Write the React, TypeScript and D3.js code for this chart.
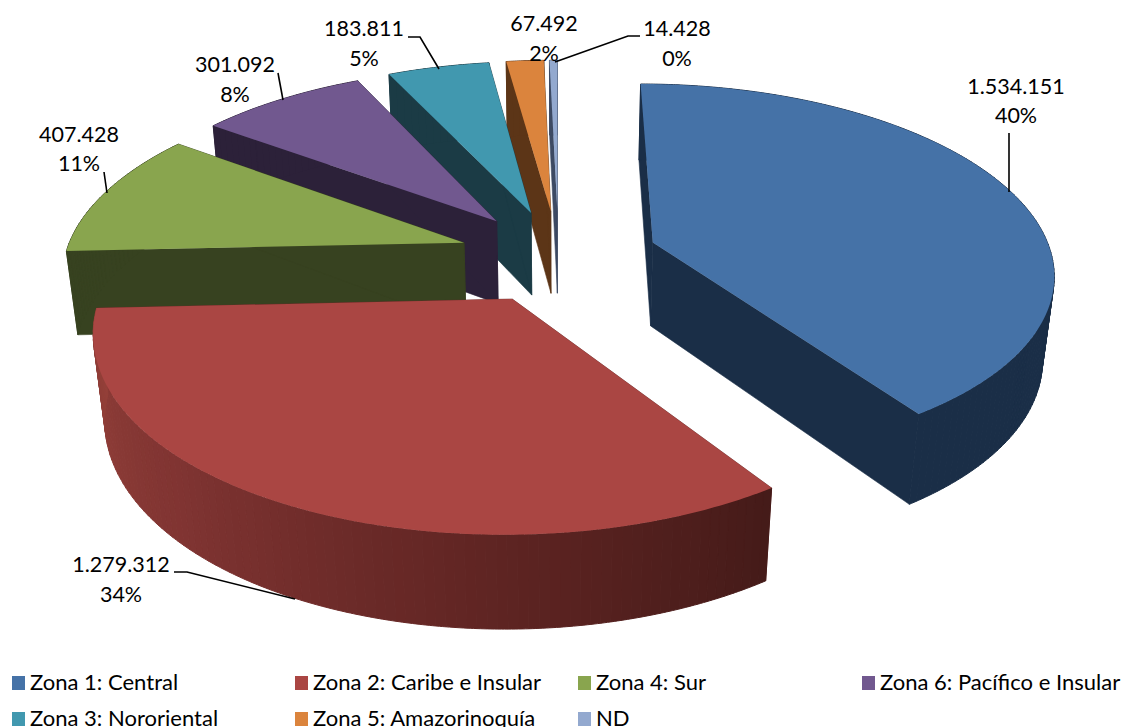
import React from "react";
import * as d3 from "d3";

const zones = ["Zona 1: Central", "Zona 2: Caribe e Insular", "Zona 4: Sur", "Zona 6: Pacífico e Insular", "Zona 3: Nororiental", "Zona 5: Amazorinoquía", "ND"];
const values = [1534151, 1279312, 407428, 301092, 183811, 67492, 14428];
const valueLabels = ["1.534.151", "1.279.312", "407.428", "301.092", "183.811", "67.492", "14.428"];
const percentLabels = ["40%", "34%", "11%", "8%", "5%", "2%", "0%"];
const topColors = ["#4572A7", "#AA4643", "#89A54E", "#71588F", "#4198AF", "#DB843D", "#93A9CF"];
const wallColors = ["#1A2E47", "#6B2A28", "#374220", "#2C2139", "#1B3B45", "#5C3517", "#3D4A63"];
const redWallStops = ["#451B19", "#5E2422", "#803432", "#944039"];
const paintOrder = [6, 5, 4, 3, 2, 0, 1];

// label anchors: [centre x, first baseline, second baseline]
const labelAnchors: [number, number, number][] = [
  [1016, 94, 123], [121, 572, 602], [79, 142, 171], [235, 72, 102], [364, 36, 66], [544, 31, 61], [677, 36, 66],
];
const leaders: [number, number][][] = [
  [[1009, 133], [1009, 192]],
  [[174, 572], [187, 572], [295, 599]],
  [[104, 172], [107, 193]],
  [[278, 73], [283, 100]],
  [[408, 37], [420, 37], [439, 69]],
  [],
  [[640, 36], [628, 36], [555, 62]],
];
const legendCols = [12, 295, 578, 862];
const legendRows = [676, 712];

// camera of the 3-D pie
const cam = { cx: 558.5, cy: 256, f: 399, g: 186, k: 0.15, m: 0.024, n: 86, explode: 0.25 };
const project = (X: number, Y: number, Z: number): [number, number] => {
  const w = 1 + cam.k * Y + cam.m * Z;
  return [cam.cx + (cam.f * X) / w, cam.cy + (-cam.g * Y + cam.n * Z) / w];
};

const arcs = d3.pie<number>().sort(null).startAngle(0).endAngle(2 * Math.PI)(values);
const line = d3.line();

export default function App() {
  const redShade = d3
    .scaleLinear<string>()
    .domain([arcs[1].startAngle, 3.14, 3.93, arcs[1].endAngle])
    .range(redWallStops)
    .interpolate(d3.interpolateRgb);

  const slices = paintOrder.map((i) => {
    const a = arcs[i];
    const mid = (a.startAngle + a.endAngle) / 2;
    const ox = cam.explode * Math.sin(mid);
    const oy = cam.explode * Math.cos(mid);
    const n = Math.max(2, Math.ceil((a.endAngle - a.startAngle) / 0.012));
    const thetas = d3.range(n + 1).map((j) => a.startAngle + ((a.endAngle - a.startAngle) * j) / n);
    const rim = (t: number, z: number) => project(ox + Math.sin(t), oy + Math.cos(t), z);
    const top = [project(ox, oy, 0), ...thetas.map((t) => rim(t, 0))] as [number, number][];
    const wallFor = (t: number) => [project(ox, oy, 0), rim(t, 0), rim(t, 1), project(ox, oy, 1)] as [number, number][];
    const bandN = Math.max(1, Math.ceil((a.endAngle - a.startAngle) / 0.022));
    const bands = d3.range(bandN).map((j) => {
      const ts = d3.range(4).map((q) => a.startAngle + ((a.endAngle - a.startAngle) * (j + q / 3)) / bandN);
      return { t: ts[1], pts: [...ts.map((t) => rim(t, 0)), ...ts.slice().reverse().map((t) => rim(t, 1))] as [number, number][] };
    });
    return (
      <g key={i}>
        <path d={line(wallFor(a.startAngle)) + "Z"} fill={wallColors[i]} stroke={wallColors[i]} strokeWidth={0.6} />
        <path d={line(wallFor(a.endAngle)) + "Z"} fill={wallColors[i]} stroke={wallColors[i]} strokeWidth={0.6} />
        {bands.map((b, j) => {
          const c = i === 1 ? redShade(b.t) : wallColors[i];
          return <path key={j} d={line(b.pts) + "Z"} fill={c} stroke={c} strokeWidth={1} />;
        })}
        <path d={line(top) + "Z"} fill={topColors[i]} />
      </g>
    );
  });

  const font = "Lato, 'Open Sans', sans-serif";
  return (
    <svg width={1125} height={727} style={{ position: "fixed", left: 0, top: 0, background: "#fff" }} fontFamily={font}>
      {slices}
      {leaders.map((l, i) =>
        l.length ? <path key={i} d={line(l) ?? ""} fill="none" stroke="#000" strokeWidth={1.6} /> : null
      )}
      {values.map((_, i) => (
        <g key={i} textAnchor="middle" fontSize={20.5} fill="#000">
          <text transform={`translate(${labelAnchors[i][0]},${labelAnchors[i][1]}) scale(1.05,1)`}>{valueLabels[i]}</text>
          <text transform={`translate(${labelAnchors[i][0]},${labelAnchors[i][2]}) scale(1.05,1)`}>{percentLabels[i]}</text>
        </g>
      ))}
      {zones.map((z, i) => {
        const col = legendCols[i % 4];
        const row = legendRows[Math.floor(i / 4)];
        return (
          <g key={z}>
            <rect x={col} y={row} width={13} height={14} fill={topColors[i]} />
            <text transform={`translate(${col + 18},${row + 14}) scale(1.075,1)`} fontSize={20.5} fill="#000">{z}</text>
          </g>
        );
      })}
    </svg>
  );
}
